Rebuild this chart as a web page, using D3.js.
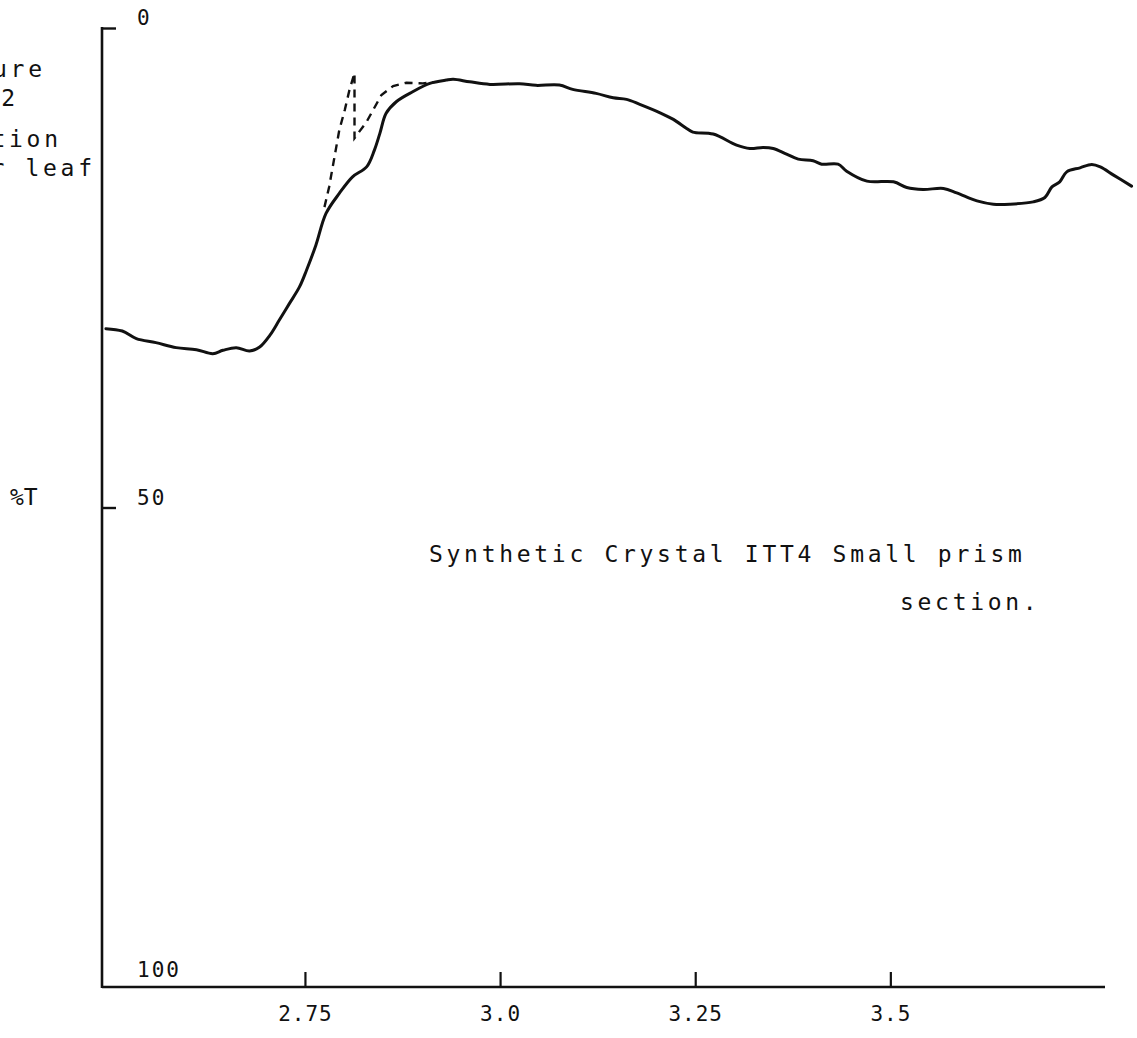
<!DOCTYPE html>
<html>
<head>
<meta charset="utf-8">
<script src="https://cdn.jsdelivr.net/npm/d3@7"></script>
<style>
  html, body { margin: 0; padding: 0; background: #fff; }
  svg { display: block; }
  text { font-family: "DejaVu Sans Mono", "Liberation Mono", monospace; fill: #111; }
</style>
</head>
<body>
<svg id="chart" width="1137" height="1038"></svg>
<script>
// Wavelength (microns) and percent transmission, solid trace
const wavelength = [2.495, 2.516, 2.534, 2.559, 2.585, 2.611, 2.632, 2.645, 2.662, 2.679,
  2.692, 2.705, 2.717, 2.730, 2.743, 2.752, 2.764, 2.777, 2.794, 2.811,
  2.829, 2.839, 2.846, 2.854, 2.867, 2.888, 2.910, 2.931, 2.940, 2.961,
  2.987, 3.025, 3.046, 3.076, 3.093, 3.123, 3.145, 3.162, 3.179, 3.205,
  3.222, 3.239, 3.247, 3.273, 3.303, 3.320, 3.337, 3.350, 3.367, 3.382,
  3.401, 3.412, 3.433, 3.444, 3.470, 3.504, 3.521, 3.542, 3.568, 3.585,
  3.611, 3.632, 3.653, 3.683, 3.698, 3.707, 3.717, 3.726, 3.743, 3.758,
  3.769, 3.786, 3.809];
const transmission = [31.35, 31.6, 32.39, 32.81, 33.33, 33.54, 33.96, 33.61, 33.33, 33.68,
  33.27, 32.05, 30.48, 28.74, 27.0, 25.26, 22.65, 19.34, 17.25, 15.52,
  14.48, 12.73, 10.99, 8.90, 7.69, 6.65, 5.77, 5.43, 5.35, 5.61,
  5.88, 5.81, 5.98, 5.95, 6.40, 6.82, 7.28, 7.44, 7.96, 8.84,
  9.53, 10.47, 10.86, 11.06, 12.21, 12.56, 12.45, 12.56, 13.15, 13.67,
  13.85, 14.20, 14.20, 14.93, 15.97, 16.04, 16.63, 16.84, 16.73, 17.19,
  18.03, 18.37, 18.37, 18.13, 17.67, 16.57, 16.04, 15.0, 14.58, 14.23,
  14.48, 15.34, 16.49];

// Dashed trace around the 2.8 micron band
const dashWavelength = [2.775, 2.781, 2.794, 2.801, 2.807, 2.8135, 2.8135, 2.829, 2.848, 2.863, 2.880, 2.901, 2.916];
const dashTransmission = [18.68, 16.57, 10.65, 8.56, 6.47, 4.70, 11.48, 9.78, 6.99, 6.05, 5.71, 5.77, 5.64];

// Axis ticks
const xTicks = [2.75, 3.0, 3.25, 3.5];
const xTickLabels = ["2.75", "3.0", "3.25", "3.5"];
const yTicks = [0, 50, 100];
const yTickLabels = ["0", "50", "100"];

// Captions
const titleLines = ["Synthetic Crystal ITT4 Small prism", "section."];
const sideNote = ["ure", "2", "tion", "r leaf"];
const yAxisTitle = "%T";

const svg = d3.select("#chart");

const x = d3.scaleLinear().domain([2.49, 3.775]).range([102, 1105]);
const y = d3.scaleLinear().domain([0, 100]).range([28, 987]);

// Left axis frame line
svg.append("line")
  .attr("x1", 102).attr("x2", 102)
  .attr("y1", y(0) - 1).attr("y2", y(100) + 1)
  .attr("stroke", "#111").attr("stroke-width", 2.6);

// Y ticks (pointing inward) with labels
const yAxis = d3.axisRight(y)
  .tickValues(yTicks)
  .tickFormat((d, i) => yTickLabels[i])
  .tickSize(14)
  .tickPadding(21);
const gy = svg.append("g").attr("transform", "translate(102,0)").call(yAxis);
gy.select(".domain").remove();
gy.selectAll(".tick line").attr("stroke", "#111").attr("stroke-width", 2.4)
  .filter(d => d === 100).remove();
gy.selectAll(".tick text")
  .attr("dy", d => d === 100 ? "-0.5em" : "-0.15em")
  .attr("font-size", 21)
  .attr("letter-spacing", "2px")
  .style("font-family", "'DejaVu Sans Mono', monospace")
  .attr("fill", "#111");

// X axis with upward ticks
const xAxis = d3.axisBottom(x)
  .tickValues(xTicks)
  .tickFormat((d, i) => xTickLabels[i])
  .tickSizeInner(-15)
  .tickSizeOuter(0)
  .tickPadding(19);
const gx = svg.append("g").attr("transform", `translate(0,${y(100)})`).call(xAxis);
gx.select(".domain").attr("stroke", "#111").attr("stroke-width", 2.4)
  .attr("d", `M${x.range()[0]},0H${x.range()[1]}`);
gx.selectAll(".tick line").attr("stroke", "#111").attr("stroke-width", 2.2);
gx.selectAll(".tick text")
  .attr("font-size", 21)
  .attr("letter-spacing", "1px")
  .style("font-family", "'DejaVu Sans Mono', monospace")
  .attr("fill", "#111");

// Traces
const solid = wavelength.map((w, i) => [w, transmission[i]]);
const dashed = dashWavelength.map((w, i) => [w, dashTransmission[i]]);
const line = d3.line().x(d => x(d[0])).y(d => y(d[1])).curve(d3.curveCatmullRom.alpha(0.5));
const lineStraight = d3.line().x(d => x(d[0])).y(d => y(d[1])).curve(d3.curveLinear);

svg.append("path").datum(dashed)
  .attr("d", lineStraight)
  .attr("fill", "none").attr("stroke", "#111")
  .attr("stroke-width", 2.4).attr("stroke-dasharray", "8,6");

svg.append("path").datum(solid)
  .attr("d", line)
  .attr("fill", "none").attr("stroke", "#111")
  .attr("stroke-width", 3).attr("stroke-linejoin", "round").attr("stroke-linecap", "round");

// Captions
const caption = svg.append("g").attr("font-size", 23).attr("letter-spacing", "3.7px");
caption.append("text").attr("x", 429).attr("y", 562).text(titleLines[0]);
caption.append("text").attr("x", 900).attr("y", 610).text(titleLines[1]);

caption.append("text").attr("x", 10).attr("y", 505).attr("letter-spacing", "0px").text(yAxisTitle);

const noteY = [77, 106, 147, 176];
const noteRight = [42, 15, 58, 92];
sideNote.forEach((t, i) => {
  caption.append("text")
    .attr("x", noteRight[i] + 3.7)
    .attr("y", noteY[i])
    .attr("text-anchor", "end")
    .text(t);
});
</script>
</body>
</html>
